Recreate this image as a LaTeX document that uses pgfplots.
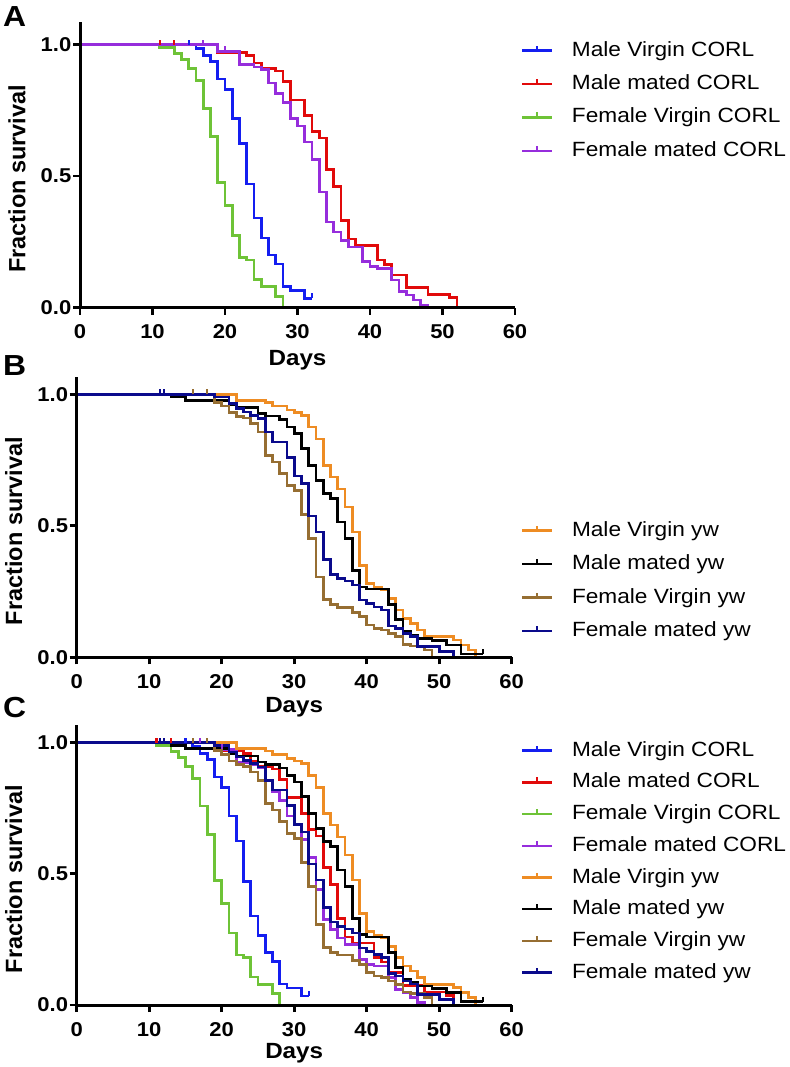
\documentclass[border=0pt]{standalone}
\usepackage{pgfplots}
\pgfplotsset{compat=1.18}
\usepackage{pgfplotstable}
\usepackage{fontspec}
\setmainfont{Liberation Sans}[FakeStretch=1.1]
\newfontfamily\ylfont{Liberation Sans}

\definecolor{cMVC}{RGB}{20,30,240}
\definecolor{cMMC}{RGB}{225,10,10}
\definecolor{cFVC}{RGB}{110,195,55}
\definecolor{cFMC}{RGB}{150,45,220}
\definecolor{cMVY}{RGB}{238,140,35}
\definecolor{cMMY}{RGB}{0,0,0}
\definecolor{cFVY}{RGB}{150,110,50}
\definecolor{cFMY}{RGB}{10,10,140}

\pgfdeclareplotmark{cens}{\pgfpathmoveto{\pgfpointorigin}\pgfpathlineto{\pgfpoint{0pt}{5pt}}\pgfusepathqstroke}

% ---------- data: day, fraction surviving ----------
\pgfplotstableread{
x y
0 1.0
16 0.985
17 0.96
18 0.935
19 0.87
20 0.83
21 0.72
22 0.625
23 0.47
24 0.34
25 0.265
26 0.20
27 0.165
28 0.08
29 0.065
31 0.035
32 0.035
}\tMVC
\pgfplotstableread{
x y
0 1.0
19 0.97
23 0.96
24 0.93
25 0.91
27 0.90
28 0.86
29 0.79
31 0.73
32 0.67
33 0.645
34 0.525
35 0.46
36 0.33
37 0.26
38 0.237
41 0.18
42 0.164
43 0.123
45 0.075
48 0.05
51 0.037
52 0.0
}\tMMC
\pgfplotstableread{
x y
0 1.0
11 0.99
13 0.967
14 0.944
15 0.91
16 0.863
17 0.758
18 0.65
19 0.475
20 0.387
21 0.275
22 0.19
23 0.18
24 0.107
25 0.079
27 0.043
28 0.0
}\tFVC
\pgfplotstableread{
x y
0 1.0
19 0.975
22 0.925
24 0.915
25 0.905
26 0.855
27 0.815
28 0.78
29 0.72
30 0.69
31 0.63
32 0.563
33 0.44
34 0.326
35 0.288
36 0.256
37 0.23
39 0.174
40 0.155
41 0.148
43 0.104
44 0.06
45 0.047
46 0.028
47 0.009
48 0.0
}\tFMC
\pgfplotstableread{
x y
0 1.0
22 0.977
26 0.968
27 0.955
29 0.94
30 0.93
31 0.92
32 0.876
33 0.83
34 0.73
35 0.686
36 0.64
37 0.572
38 0.477
39 0.35
40 0.28
41 0.266
42 0.256
43 0.224
44 0.18
45 0.148
46 0.129
47 0.104
48 0.078
52 0.066
53 0.047
54 0.028
55 0.0
}\tMVY
\pgfplotstableread{
x y
0 1.0
13 0.99
15 0.977
21 0.96
22 0.95
25 0.927
26 0.918
28 0.904
29 0.876
30 0.85
31 0.794
32 0.73
33 0.673
34 0.623
35 0.604
36 0.515
37 0.452
38 0.33
39 0.268
40 0.26
43 0.20
44 0.144
45 0.097
46 0.085
47 0.072
49 0.063
51 0.047
53 0.013
56 0.013
}\tMMY
\pgfplotstableread{
x y
0 1.0
19 0.97
20 0.955
21 0.93
22 0.916
23 0.91
24 0.889
25 0.857
26 0.768
27 0.743
28 0.70
29 0.654
30 0.635
31 0.544
32 0.452
33 0.306
34 0.22
35 0.20
36 0.19
38 0.17
39 0.155
40 0.123
41 0.11
42 0.104
43 0.091
44 0.078
45 0.049
46 0.043
48 0.028
49 0.0
}\tFVY
\pgfplotstableread{
x y
0 1.0
19 0.99
21 0.965
22 0.945
23 0.933
24 0.92
25 0.907
26 0.857
27 0.819
29 0.76
30 0.689
31 0.66
32 0.537
33 0.477
34 0.372
35 0.316
36 0.30
37 0.29
38 0.275
39 0.218
40 0.205
41 0.192
42 0.18
43 0.119
44 0.11
45 0.091
46 0.08
47 0.04
50 0.022
52 0.0
}\tFMY

\pgfplotsset{
  km/.style={
    scale only axis, width=435pt,
    xmin=0, xmax=60, ymin=0,
    axis x line=bottom, axis y line=left,
    axis line style={line width=3pt, -, black},
    tick align=outside, major tick length=7pt,
    major tick style={line width=2.8pt, black},
    xtick={0,10,...,60}, ytick={0,0.5,1},
    /pgf/number format/assume math mode=true,
    tick label style={font=\bfseries\fontsize{20}{20}\selectfont},
    xticklabel style={inner sep=0pt, yshift=-10pt},
    yticklabel style={/pgf/number format/fixed, /pgf/number format/fixed zerofill,
      /pgf/number format/precision=1, /tikz/inner sep=0pt, /tikz/xshift=-1.5pt},
    xlabel={Days}, ylabel={Fraction survival},
    every axis y label/.style={at={(axis description cs:-0.145,0.45)}, rotate=90, anchor=center,
      font=\ylfont\bfseries\fontsize{23.5}{23.5}\selectfont},
    every axis plot/.append style={line width=2.6pt, const plot},
    legend cell align=left,
    legend image code/.code={
      \draw[#1, line width=2.5pt] (0pt,0pt) -- (30pt,0pt);
      \draw[#1, line width=2.2pt] (15pt,0pt) -- (15pt,5pt);
    },
    legend style={draw=none, fill=none, anchor=north west, inner sep=0pt,
      row sep=12.4pt, column sep=18.6pt,
      font=\fontsize{20.6}{20.6}\selectfont,
      nodes={inner sep=0pt, text height=16pt, text depth=5pt}},
    after end axis/.code={
      \draw[line width=3pt, black, line cap=butt] (rel axis cs:0,0) -- (rel axis cs:1,0);
      \draw[line width=3pt, black, line cap=butt] (rel axis cs:0,0) -- (rel axis cs:0,1);
    },
  },
  xl/.style={every axis x label/.style={at={(axis description cs:0.5,0)}, anchor=base, yshift=#1,
      font=\bfseries\fontsize{22}{22}\selectfont}},
  cens/.style={forget plot, only marks, mark=cens, mark options={line width=2.2pt}},
}

\begin{document}
\begin{tikzpicture}
\path[use as bounding box] (0pt,0pt) rectangle (789pt,-1067pt);
\node[anchor=base west, inner sep=0pt, font=\bfseries\fontsize{29}{29}\selectfont] at (3pt,-27pt) {A};
\node[anchor=base west, inner sep=0pt, font=\bfseries\fontsize{29}{29}\selectfont] at (3pt,-375pt) {B};
\node[anchor=base west, inner sep=0pt, font=\bfseries\fontsize{29}{29}\selectfont] at (3pt,-717pt) {C};

% ---------------- A ----------------
\begin{axis}[km, xl=-57.5pt, at={(80pt,-307.5pt)}, anchor=south west, height=285.8pt, ymax=1.0875,
  legend style={at={(axis description cs:1.013,0.936)}}]
\addplot[cMVC] table {\tMVC}; \addlegendentry{Male Virgin CORL}
\addplot[cMMC] table {\tMMC}; \addlegendentry{Male mated CORL}
\addplot[cFVC] table {\tFVC}; \addlegendentry{Female Virgin CORL}
\addplot[cFMC] table {\tFMC}; \addlegendentry{Female mated CORL}
\addplot[cens, cMMC] coordinates {(11,1) (13,1)};
\addplot[cens, cMVC] coordinates {(15,1) (32,0.035)};
\addplot[cens, cFMC] coordinates {(17,1) (20,0.975)};
\end{axis}

% ---------------- B ----------------
\begin{axis}[km, xl=-55pt, at={(76.7pt,-657.3pt)}, anchor=south west, height=280.6pt, ymax=1.067,
  legend style={at={(axis description cs:1.0207,0.4893)}}]
\addplot[cMVY] table {\tMVY}; \addlegendentry{Male Virgin yw}
\addplot[cMMY] table {\tMMY}; \addlegendentry{Male mated yw}
\addplot[cFVY] table {\tFVY}; \addlegendentry{Female Virgin yw}
\addplot[cFMY] table {\tFMY}; \addlegendentry{Female mated yw}
\addplot[cens, cFMY] coordinates {(11.5,1) (12,1)};
\addplot[cens, cFVY] coordinates {(16,1) (18,1)};
\addplot[cens, cMMY] coordinates {(56,0.013)};
\end{axis}

% ---------------- C ----------------
\begin{axis}[km, xl=-53.3pt, at={(76.7pt,-1005pt)}, anchor=south west, height=280pt, ymax=1.0675,
  legend style={at={(axis description cs:1.0207,0.9464)}, row sep=10.7pt}]
\addplot[cMVC] table {\tMVC}; \addlegendentry{Male Virgin CORL}
\addplot[cMMC] table {\tMMC}; \addlegendentry{Male mated CORL}
\addplot[cFVC] table {\tFVC}; \addlegendentry{Female Virgin CORL}
\addplot[cFMC] table {\tFMC}; \addlegendentry{Female mated CORL}
\addplot[cMVY] table {\tMVY}; \addlegendentry{Male Virgin yw}
\addplot[cMMY] table {\tMMY}; \addlegendentry{Male mated yw}
\addplot[cFVY] table {\tFVY}; \addlegendentry{Female Virgin yw}
\addplot[cFMY] table {\tFMY}; \addlegendentry{Female mated yw}
\addplot[cens, cMMC] coordinates {(11,1) (13,1)};
\addplot[cens, cMVC] coordinates {(15,1) (32,0.035)};
\addplot[cens, cFMC] coordinates {(17,1) (20,0.975)};
\addplot[cens, cFMY] coordinates {(11.5,1) (12,1)};
\addplot[cens, cFVY] coordinates {(16,1) (18,1)};
\addplot[cens, cMMY] coordinates {(56,0.013)};
\end{axis}
\end{tikzpicture}
\end{document}
